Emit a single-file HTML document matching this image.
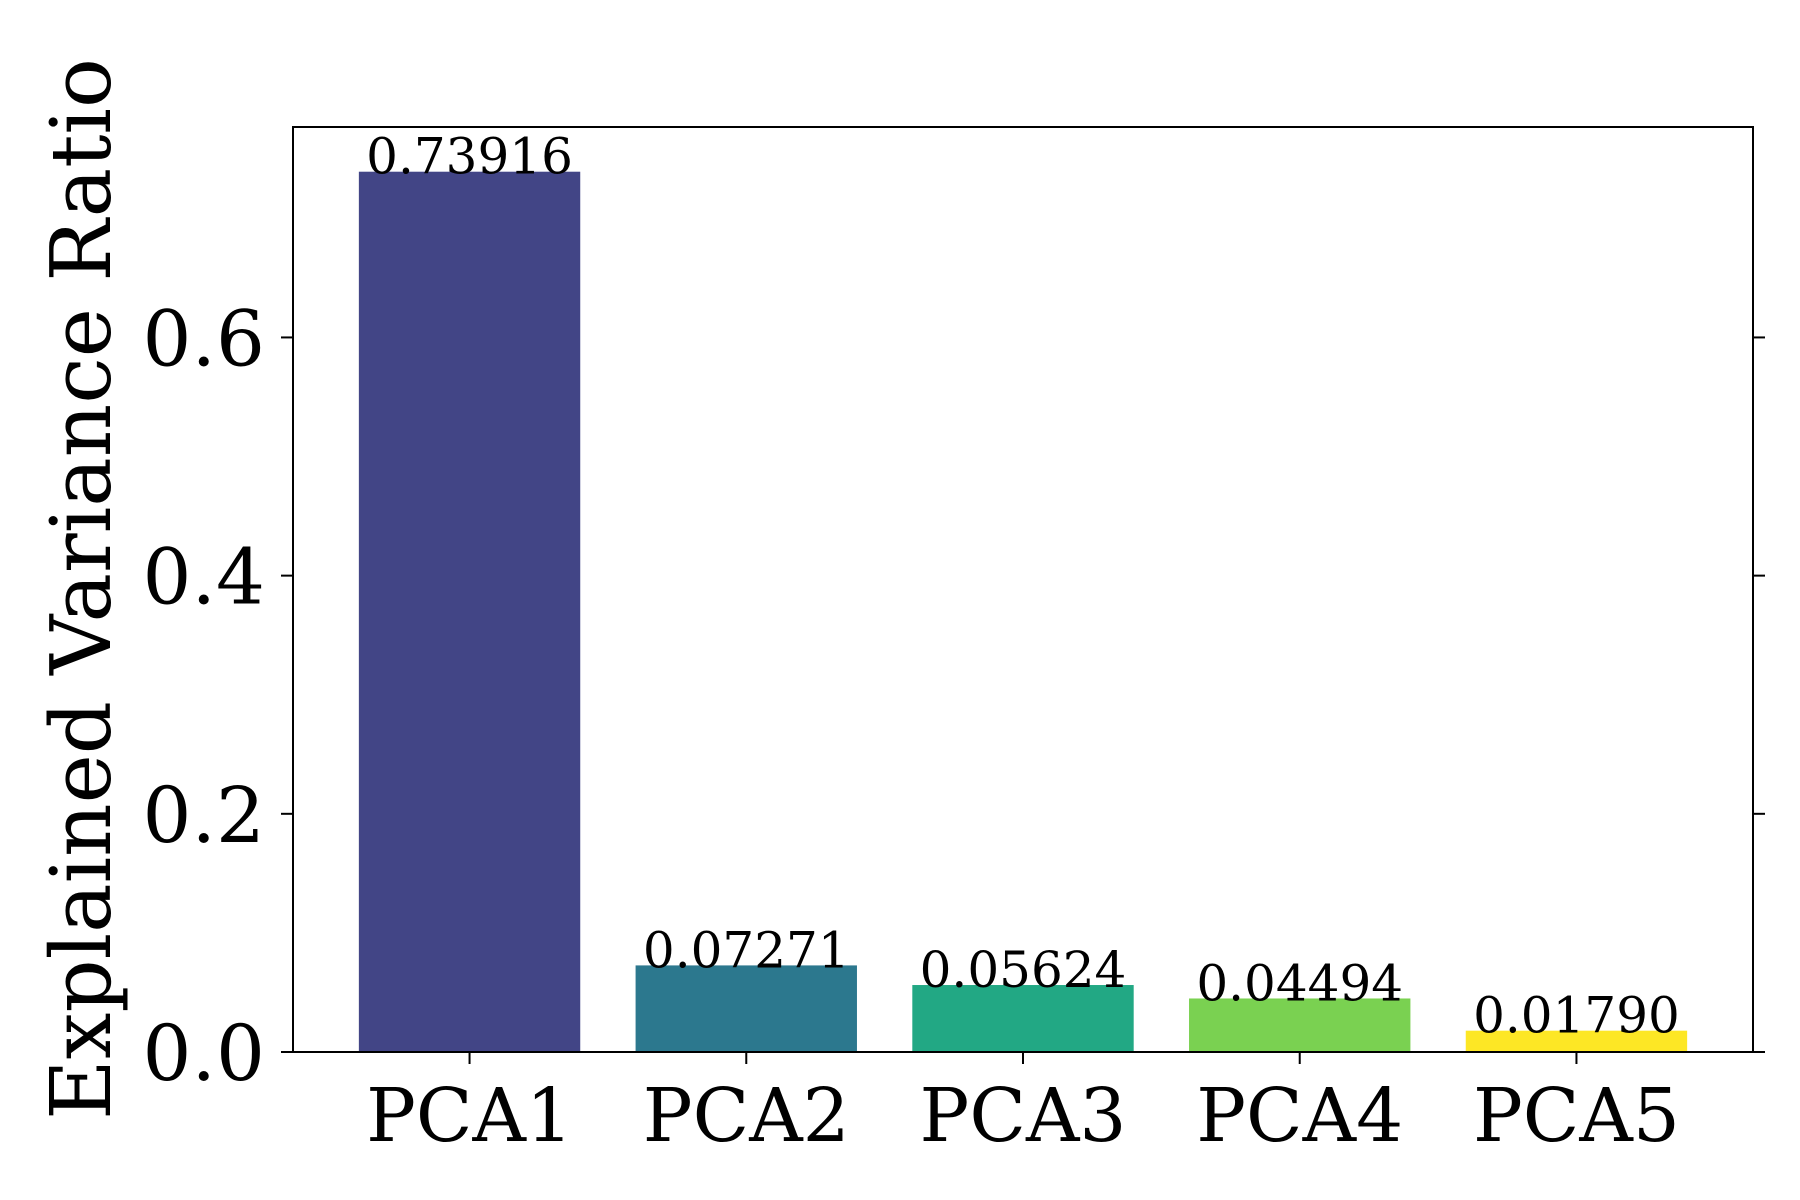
<!DOCTYPE html>
<html><head><meta charset="utf-8"><style>
html,body{margin:0;padding:0;background:#fff}
svg{display:block}
text{font-family:"DejaVu Serif","Liberation Serif",serif;fill:#000}
</style></head><body>
<svg id="chart" width="1800" height="1200">
<g id="bars"></g>
<g id="axes"></g>
</svg>
<script>
const categories = ["PCA1","PCA2","PCA3","PCA4","PCA5"];
const values = [0.73916,0.07271,0.05624,0.04494,0.01790];
const valueLabels = ["0.73916","0.07271","0.05624","0.04494","0.01790"];
const colors = ["#424586","#2c788e","#22a884","#7ad151","#fde725"];
const yTicks = [0.0,0.2,0.4,0.6];
const yTickLabels = ["0.0","0.2","0.4","0.6"];

const L=293,R=1753,T=127,B=1052;
const xmin=-0.638,xmax=4.638,ymin=0,ymax=0.7767;
const xs=v=>L+(v-xmin)/(xmax-xmin)*(R-L);
const ys=v=>B-(v-ymin)/(ymax-ymin)*(B-T);
const NS="http://www.w3.org/2000/svg";
function mk(tag,attrs,parent){const e=document.createElementNS(NS,tag);for(const k in attrs)e.setAttribute(k,attrs[k]);parent.appendChild(e);return e;}
const bars=document.getElementById('bars'),axes=document.getElementById('axes');
const bw=0.8;
values.forEach((v,i)=>{
  const x0=xs(i-bw/2),x1=xs(i+bw/2);
  const r=mk('rect',{x:x0,y:ys(v),width:x1-x0,height:ys(0)-ys(v),fill:colors[i]},bars);
  
  
  const t=mk('text',{x:xs(i),y:ys(v)+2,'text-anchor':'middle','font-size':'50'},bars);
  t.textContent=valueLabels[i];
  
  
});
const frame=mk('rect',{x:L,y:T,width:R-L,height:B-T,fill:'none',stroke:'#000','stroke-width':2},axes);


yTicks.forEach((v,i)=>{
  const y=ys(v);
  mk('line',{x1:L-12,x2:L,y1:y,y2:y,stroke:'#000','stroke-width':2},axes);
  mk('line',{x1:R,x2:R+12,y1:y,y2:y,stroke:'#000','stroke-width':2},axes);
  const t=mk('text',{x:L-28,y:y+28,'text-anchor':'end','font-size':'77'},axes);
  t.textContent=yTickLabels[i];
  
  
});
categories.forEach((c,i)=>{
  const x=xs(i);
  mk('line',{x1:x,x2:x,y1:B,y2:B+12,stroke:'#000','stroke-width':2},axes);
  const t=mk('text',{x:x,y:B+89,'text-anchor':'middle','font-size':'74'},axes);
  t.textContent=c;
  
  
});
const yl=mk('text',{x:0,y:0,'text-anchor':'middle','font-size':'83',transform:'translate(110,589) rotate(-90)'},axes);
yl.textContent="Explained Variance Ratio";


</script>
</body></html>
